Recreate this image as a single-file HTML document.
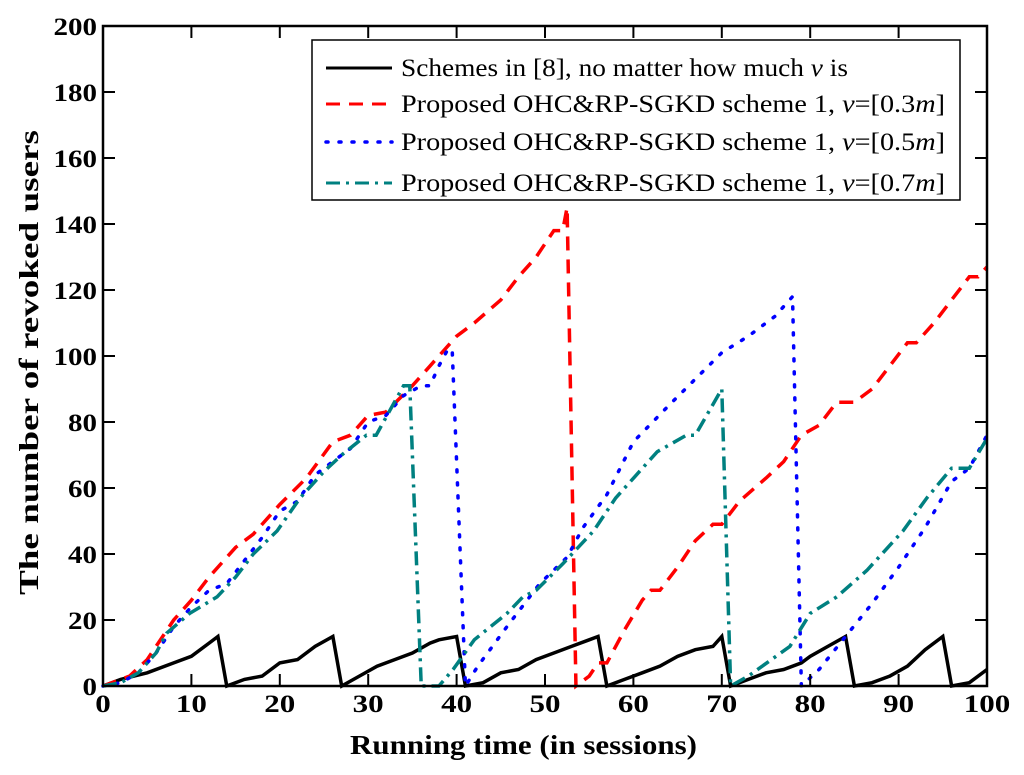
<!DOCTYPE html>
<html><head><meta charset="utf-8"><style>
html,body{margin:0;padding:0;background:#fff;}
svg{display:block;font-family:"Liberation Serif",serif;}
</style></head><body>
<svg id="chart" width="1024" height="775" viewBox="0 0 1024 775" xmlns="http://www.w3.org/2000/svg">
<rect x="0" y="0" width="1024" height="775" fill="#fff"/>
<g id="series"></g>
<rect x="103" y="26" width="884" height="660" fill="none" stroke="#000" stroke-width="2.5"/>
<g id="ticks"></g>
<text x="350" y="754" font-size="27" font-weight="bold" textLength="347" lengthAdjust="spacingAndGlyphs">Running time (in sessions)</text>
<text transform="translate(38,595) rotate(-90)" font-size="27" font-weight="bold" textLength="465" lengthAdjust="spacingAndGlyphs">The number of revoked users</text>
<g>
<rect x="312" y="40" width="648" height="160" fill="#fff" stroke="#000" stroke-width="1.5"/>
<g>
<line x1="326" y1="68" x2="392" y2="68" stroke="#000" stroke-width="3"/>
<text x="401" y="76" font-size="25" textLength="447" lengthAdjust="spacingAndGlyphs">Schemes in [8], no matter how much <tspan font-style="italic">v</tspan> is</text></g>
<g>
<line x1="326" y1="104" x2="392" y2="104" stroke="#f00" stroke-width="3" stroke-dasharray="14,9"/>
<text x="401" y="112" font-size="25" textLength="544" lengthAdjust="spacingAndGlyphs">Proposed OHC&amp;RP-SGKD scheme 1, <tspan font-style="italic">v</tspan>=[0.3<tspan font-style="italic">m</tspan>]</text></g>
<g>
<line x1="326" y1="142" x2="392" y2="142" stroke="#00f" stroke-width="3.5" stroke-dasharray="2,11" stroke-linecap="round"/>
<text x="401" y="150" font-size="25" textLength="544" lengthAdjust="spacingAndGlyphs">Proposed OHC&amp;RP-SGKD scheme 1, <tspan font-style="italic">v</tspan>=[0.5<tspan font-style="italic">m</tspan>]</text></g>
<g>
<line x1="326" y1="183" x2="392" y2="183" stroke="#008080" stroke-width="3" stroke-dasharray="14,6,3,6"/>
<text x="401" y="191" font-size="25" textLength="544" lengthAdjust="spacingAndGlyphs">Proposed OHC&amp;RP-SGKD scheme 1, <tspan font-style="italic">v</tspan>=[0.7<tspan font-style="italic">m</tspan>]</text></g>
</g>
</svg>
<script>
const xTicks = [0,10,20,30,40,50,60,70,80,90,100];
const yTicks = [0,20,40,60,80,100,120,140,160,180,200];
const blackX = [0,2,5,8,10,12,13,14,16,18,20,22,24,26,27,29,31,33,35,37,38,40,41,43,45,47,49,51,53,55,56,57,59,61,63,65,67,69,70,71,73,75,77,79,80,82,84,85,87,89,91,93,95,96,98,100];
const blackY = [0,2,4,7,9,13,15,0,2,3,7,8,12,15,0,3,6,8,10,13,14,15,0,1,4,5,8,10,12,14,15,0,2,4,6,9,11,12,15,0,2,4,5,7,9,12,15,0,1,3,6,11,15,0,1,5];
const redX = [0,3,5,8,10,12,15,17,20,23,26,28,30,32,35,37,40,42,45,47,49,51,52,52.5,53.5,55,56,57,59,61,62,63,65,67,69,70,72,75,77,79,81,83,85,87,89,91,92,94,96,98,99,100];
const redY = [0,3,8,20,26,33,42,46,55,63,74,76,82,83,91,97,106,110,117,124,130,138,138,145,0,3,7,7,17,26,29,29,36,44,49,49,56,63,68,76,79,86,86,90,97,104,104,110,117,124,124,127];
const blueX = [0,2,4,6,8,10,12,14,16,18,20,22,24,26,28,30,32,34,36,37,38,39,39.5,41,42.4,45.7,49.4,52.5,54.3,57,60,64,67,70,73,76,78,79,81,84,87,90,93,96,98,100];
const blueY = [0,1,4,10,18,24,29,31,38,45,53,56,64,68,72,80,82,88,91,91,97,102,102,0,6,18,31,39,48,58,74,85,93,101,106,112,118,0,5,15,25,36,48,62,66,76];
const tealX = [0,2,4,6,7.2,9.8,12.9,15,17,19.7,22.3,25,27,29.8,30.9,34,34.7,36,38,39.6,42,45.7,47.5,49,52,55.5,58,62.7,66,67,70,71,73,77.7,80,83,86.4,90.5,93.2,96,98,100];
const tealY = [0,1,4,10,16,22,27,33,40,47,57,65,70,76,76,91,91,0,0,5,14,22,27,29,37,47,57,71,76,76,90,0,3,12,22,27,35,47,57,66,66,75];
const X0=103,X1=987,Y0=686,Y1=26;
const sx = v => X0 + (v-0)/(100-0)*(X1-X0);
const sy = v => Y0 - (v-0)/(200-0)*(Y0-Y1);
const NS="http://www.w3.org/2000/svg";
const tk=document.getElementById('ticks');
xTicks.forEach(t=>{
  const l=document.createElementNS(NS,'line');
  
  
  l.setAttribute('x1',sx(t));l.setAttribute('x2',sx(t));l.setAttribute('y1',Y0);l.setAttribute('y2',Y0-12);
  l.setAttribute('stroke','#000');l.setAttribute('stroke-width','2');tk.appendChild(l);
  const l2=document.createElementNS(NS,'line');
  
  
  l2.setAttribute('x1',sx(t));l2.setAttribute('x2',sx(t));l2.setAttribute('y1',Y1);l2.setAttribute('y2',Y1+12);
  l2.setAttribute('stroke','#000');l2.setAttribute('stroke-width','2');tk.appendChild(l2);
  const tx=document.createElementNS(NS,'text');
  
  
  tx.setAttribute('x',sx(t));tx.setAttribute('y',Y0+26);tx.setAttribute('font-size','25');tx.setAttribute('font-weight','bold');tx.setAttribute('text-anchor','middle');
  tx.setAttribute('textLength',String(t).length*15.5);tx.setAttribute('lengthAdjust','spacingAndGlyphs');
  tx.textContent=t;tk.appendChild(tx);
});
yTicks.forEach(t=>{
  [[X0,X0+12],[X1,X1-12]].forEach(p=>{
    const l=document.createElementNS(NS,'line');
    
    
    l.setAttribute('x1',p[0]);l.setAttribute('x2',p[1]);l.setAttribute('y1',sy(t));l.setAttribute('y2',sy(t));
    l.setAttribute('stroke','#000');l.setAttribute('stroke-width','2');tk.appendChild(l);
  });
  const tx=document.createElementNS(NS,'text');
  
  
  tx.setAttribute('x',X0-6);tx.setAttribute('y',sy(t)+9);tx.setAttribute('font-size','25');tx.setAttribute('font-weight','bold');tx.setAttribute('text-anchor','end');
  tx.setAttribute('textLength',String(t).length*14.5);tx.setAttribute('lengthAdjust','spacingAndGlyphs');
  tx.textContent=t;tk.appendChild(tx);
});
const sg=document.getElementById('series');
function draw(xs,ys,color,dash,name,cap){
  const p=document.createElementNS(NS,'polyline');
  
  
  p.setAttribute('points',xs.map((x,i)=>sx(x)+','+sy(ys[i])).join(' '));
  p.setAttribute('fill','none');p.setAttribute('stroke',color);p.setAttribute('stroke-width','3.5');
  if(dash)p.setAttribute('stroke-dasharray',dash);
  if(cap)p.setAttribute('stroke-linecap',cap);
  sg.appendChild(p);
}
draw(blackX,blackY,'#000',null,'series-schemes8');
draw(redX,redY,'#f00','14,9','series-v03');
draw(blueX,blueY,'#00f','2,11','series-v05','round');
draw(tealX,tealY,'#008080','14,6,3,6','series-v07');
</script>
</body></html>
